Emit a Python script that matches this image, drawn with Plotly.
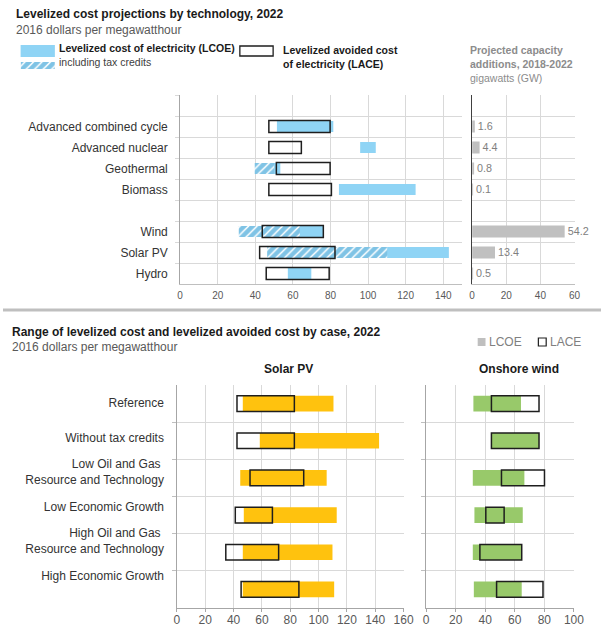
import plotly.graph_objects as go

# ---------------- Top panel data ----------------
tech_labels = ["Advanced combined cycle", "Advanced nuclear", "Geothermal", "Biomass", "",
               "Wind", "Solar PV", "Hydro"]
lcoe_lo = [51.5, 95.8, 43.5, 84.5, None, 43.0, 58.5, 57.3]
lcoe_hi = [81.5, 104.1, 53.3, 125.3, None, 76.2, 143.0, 69.8]
credit_lo = [None, None, 39.7, None, None, 31.2, 46.3, None]
credit_hi = [None, None, 50.0, None, None, 63.7, 110.2, None]
lace_lo = [47.2, 47.2, 51.2, 47.2, None, 43.7, 42.3, 45.8]
lace_hi = [79.8, 64.5, 79.8, 80.5, None, 76.2, 82.4, 79.3]
capacity_gw = [1.6, 4.4, 0.8, 0.1, None, 54.2, 13.4, 0.5]

# ---------------- Bottom panel data ----------------
cases = ["Reference", "Without tax credits", "Low Oil and Gas <br>Resource and Technology",
         "Low Economic Growth", "High Oil and Gas <br>Resource and Technology", "High Economic Growth"]
solar_lcoe_lo = [46.5, 58.5, 44.7, 47.2, 46.5, 46.5]
solar_lcoe_hi = [110.5, 142.7, 105.7, 112.8, 109.8, 111.0]
solar_lace_lo = [42.4, 42.4, 51.6, 41.2, 34.5, 45.3]
solar_lace_hi = [82.9, 82.9, 89.5, 67.4, 71.8, 86.1]
wind_lcoe_lo = [32.0, 44.2, 31.6, 32.7, 31.6, 32.3]
wind_lcoe_hi = [64.2, 76.4, 66.5, 65.4, 64.7, 64.7]
wind_lace_lo = [44.2, 44.2, 51.0, 40.4, 36.4, 47.7]
wind_lace_hi = [76.4, 76.4, 80.1, 52.8, 64.7, 79.1]

W, H = 611, 640
FONT = "Liberation Sans, Arial, sans-serif"
LIGHT_BLUE = "#8FD4F5"
HATCH_BLUE = "#0088CC"
YELLOW = "#FFC20E"
GREEN = "#98C96A"
GRAY_BAR = "#C0C0C0"
GRID = "#D9D9D9"
BOX = "#1E1E1E"


def px(x):
    return x / W


def py(y):
    return 1 - y / H


def range_bar(lo, hi, xa, ya, width, marker):
    ys, xs, bs = [], [], []
    for i, (a, b) in enumerate(zip(lo, hi)):
        if a is None or b is None:
            continue
        ys.append(i)
        xs.append(b - a)
        bs.append(a)
    return go.Bar(y=ys, x=xs, base=bs, orientation="h", width=width, marker=marker,
                  xaxis=xa, yaxis=ya, showlegend=False, hoverinfo="skip")


HATCH = dict(shape="/", fgcolor=HATCH_BLUE, bgcolor="white", size=6, solidity=0.75)

fig = go.Figure()

# top-left: LCOE, with tax credits, LACE
fig.add_trace(range_bar(lcoe_lo, lcoe_hi, "x", "y", 0.52,
                        dict(color=LIGHT_BLUE, line=dict(width=0))))
fig.add_trace(range_bar(credit_lo, credit_hi, "x", "y", 0.52,
                        dict(color="white", line=dict(width=0), pattern=HATCH)))
fig.add_trace(range_bar(lace_lo, lace_hi, "x", "y", 0.56,
                        dict(color="rgba(0,0,0,0)", line=dict(color=BOX, width=1.5))))

# top-right: capacity additions
cap_y = [i for i, v in enumerate(capacity_gw) if v is not None]
cap_x = [v for v in capacity_gw if v is not None]
fig.add_trace(go.Bar(y=cap_y, x=cap_x, orientation="h", width=0.56,
                     marker=dict(color=GRAY_BAR, line=dict(width=0)),
                     text=[str(v) for v in cap_x], textposition="outside",
                     textfont=dict(color="#808080", size=11, family=FONT),
                     cliponaxis=False, xaxis="x2", yaxis="y2", showlegend=False,
                     hoverinfo="skip"))

# bottom-left: Solar PV
fig.add_trace(range_bar(solar_lcoe_lo, solar_lcoe_hi, "x3", "y3", 0.42,
                        dict(color=YELLOW, line=dict(width=0))))
fig.add_trace(range_bar(solar_lace_lo, solar_lace_hi, "x3", "y3", 0.42,
                        dict(color="rgba(0,0,0,0)", line=dict(color=BOX, width=1.5))))
# bottom-right: Onshore wind
fig.add_trace(range_bar(wind_lcoe_lo, wind_lcoe_hi, "x4", "y4", 0.42,
                        dict(color=GREEN, line=dict(width=0))))
fig.add_trace(range_bar(wind_lace_lo, wind_lace_hi, "x4", "y4", 0.42,
                        dict(color="rgba(0,0,0,0)", line=dict(color=BOX, width=1.5))))

# label axis helper trace
fig.add_trace(go.Scatter(x=[None], y=[None], xaxis="x3", yaxis="y5", showlegend=False,
                         hoverinfo="skip"))

# hatched legend swatch
fig.add_trace(go.Bar(y=[0], x=[1], base=[0], orientation="h", width=1,
                     marker=dict(color="white", line=dict(width=0), pattern=HATCH),
                     xaxis="x6", yaxis="y6", showlegend=False, hoverinfo="skip"))

tick_small = dict(family=FONT, size=10, color="#595959")
tick_big = dict(family=FONT, size=12, color="#595959")
cat_font = dict(family=FONT, size=12, color="#333333")

top_bounds = [k - 0.5 for k in range(-1, 8)]
bot_bounds = [k + 0.5 for k in range(0, 5)]

fig.update_layout(
    width=W, height=H, autosize=False, margin=dict(l=0, r=0, t=0, b=0),
    paper_bgcolor="white", plot_bgcolor="white", barmode="overlay",
    font=dict(family=FONT),
    xaxis=dict(domain=[px(181), px(469)], range=[0, 150], tickvals=list(range(0, 141, 20)),
               showgrid=True, gridcolor=GRID, zeroline=False, showline=True,
               linecolor="#BFBFBF", ticks="", tickfont=tick_small, ticklabelstandoff=2,
               anchor="y", fixedrange=True),
    yaxis=dict(domain=[py(284), py(95)], range=[7.5, -1.5], tickvals=list(range(8)),
               ticktext=tech_labels, showgrid=False, zeroline=False, showline=True,
               linecolor="#A6A6A6", ticks="", tickfont=cat_font, ticklabelstandoff=9,
               minor=dict(tickmode="array", tickvals=top_bounds, showgrid=True, gridcolor=GRID,
                          ticks="outside", ticklen=4, tickcolor=GRID),
               anchor="x", fixedrange=True),
    xaxis2=dict(domain=[px(479.3), px(584)], range=[0, 60], tickvals=[0, 20, 40, 60],
                showgrid=True, gridcolor=GRID, zeroline=False, showline=True,
                linecolor="#BFBFBF", ticks="", tickfont=tick_small, ticklabelstandoff=2,
                anchor="y2", fixedrange=True),
    yaxis2=dict(domain=[py(284), py(95)], range=[7.5, -1.5], showticklabels=False,
                tickvals=[], showgrid=False, zeroline=False, showline=True, linecolor="#404040",
                minor=dict(tickmode="array", tickvals=top_bounds, showgrid=True, gridcolor=GRID,
                           ticks=""),
                anchor="x2", fixedrange=True),
    xaxis3=dict(domain=[px(177.7), px(409.3)], range=[0, 160], tickvals=list(range(0, 161, 20)),
                showgrid=True, gridcolor=GRID, zeroline=False, showline=True,
                linecolor="#A6A6A6", ticks="outside", ticklen=3, tickcolor="#A6A6A6",
                tickfont=tick_big, ticklabelstandoff=-2, anchor="y3", fixedrange=True),
    yaxis3=dict(domain=[py(608), py(385)], range=[5.5, -0.5], tickvals=[],
                showticklabels=False, showgrid=False, zeroline=False, showline=True,
                linecolor="#A6A6A6",
                minor=dict(tickmode="array", tickvals=bot_bounds, showgrid=True, gridcolor=GRID,
                           ticks="outside", ticklen=4, tickcolor="#BFBFBF"),
                anchor="x3", fixedrange=True),
    yaxis5=dict(overlaying="y3", anchor="x3", side="left", range=[5.942, -0.522],
                tickvals=list(range(6)), ticktext=cases, showgrid=False, zeroline=False,
                showline=False, ticks="", tickfont=cat_font, ticklabelstandoff=12,
                fixedrange=True),
    xaxis4=dict(domain=[px(432.3), px(583.3)], range=[0, 100], tickvals=list(range(0, 101, 20)),
                showgrid=True, gridcolor=GRID, zeroline=False, showline=True,
                linecolor="#A6A6A6", ticks="outside", ticklen=3, tickcolor="#A6A6A6",
                tickfont=tick_big, ticklabelstandoff=-2, anchor="y4", fixedrange=True),
    yaxis4=dict(domain=[py(608), py(385)], range=[5.5, -0.5], tickvals=[],
                showticklabels=False, showgrid=False, zeroline=False, showline=True,
                linecolor="#A6A6A6",
                minor=dict(tickmode="array", tickvals=bot_bounds, showgrid=True, gridcolor=GRID,
                           ticks="outside", ticklen=4, tickcolor="#BFBFBF"),
                anchor="x4", fixedrange=True),
    xaxis6=dict(domain=[px(18), px(53)], range=[0, 1], visible=False, anchor="y6",
                fixedrange=True),
    yaxis6=dict(domain=[py(69), py(62)], range=[-0.5, 0.5], visible=False, anchor="x6",
                fixedrange=True),
)

shapes = [
    # separator
    dict(type="line", xref="paper", yref="paper", x0=0, x1=1, y0=py(310), y1=py(310),
         line=dict(color="#BFBFBF", width=3)),
    # legend swatches (top)
    dict(type="rect", xref="paper", yref="paper", x0=px(18), x1=px(53), y0=py(57), y1=py(45),
         fillcolor=LIGHT_BLUE, line=dict(width=0)),
    dict(type="rect", xref="paper", yref="paper", x0=px(242), x1=px(276), y0=py(56), y1=py(46),
         fillcolor="white", line=dict(color=BOX, width=1.3)),
    # legend swatches (bottom)
    dict(type="rect", xref="paper", yref="paper", x0=px(485), x1=px(493), y0=py(346), y1=py(338),
         fillcolor="#BFBFBF", line=dict(width=0)),
    dict(type="rect", xref="paper", yref="paper", x0=px(547), x1=px(555), y0=py(346), y1=py(338),
         fillcolor="white", line=dict(color=BOX, width=1.2)),
]
fig.update_layout(shapes=shapes)


def note(text, x, y, size=12, color="#1a1a1a", xanchor="left"):
    fig.add_annotation(text=text, x=px(x), y=py(y), xref="paper", yref="paper",
                       xanchor=xanchor, yanchor="middle", showarrow=False,
                       font=dict(family=FONT, size=size, color=color))


note("<b>Levelized cost projections by technology, 2022</b>", 11, 14)
note("2016 dollars per megawatthour", 11, 30, color="#595959")
note("<b>Levelized cost of electricity (LCOE)</b>", 55, 48, size=10.5)
note("including tax credits", 55, 62, size=10.5, color="#404040")
note("<b>Levelized avoided cost</b>", 284, 50, size=10.5)
note("<b>of electricity (LACE)</b>", 284, 64, size=10.5)
note("<b>Projected capacity</b>", 475, 50, size=10.5, color="#8C8C8C")
note("<b>additions, 2018-2022</b>", 475, 64, size=10.5, color="#8C8C8C")
note("gigawatts (GW)", 475, 78, size=10.5, color="#8C8C8C")

note("<b>Range of levelized cost and levelized avoided cost by case, 2022</b>", 7, 332)
note("2016 dollars per megawatthour", 7, 347, color="#595959")
note("LCOE", 495, 342, color="#808080")
note("LACE", 557, 342, color="#808080")
note("<b>Solar PV</b>", 292, 369, xanchor="center")
note("<b>Onshore wind</b>", 527, 369, xanchor="center")

POST = ("document.documentElement.style.overflow='hidden';"
        "document.body.style.margin='0';document.body.style.overflow='hidden';")

fig.write_html("out.html", config={"displayModeBar": False, "responsive": False},
               post_script=POST)
